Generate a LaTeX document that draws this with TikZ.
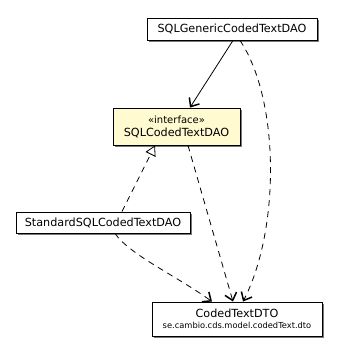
\documentclass[tikz,border=0pt]{standalone}
\usepackage{fontspec}
\setmainfont{DejaVu Sans}
\usetikzlibrary{arrows.meta,shadows}
\definecolor{ifacefill}{RGB}{255,250,208}
\definecolor{shadowgray}{RGB}{120,120,120}
\begin{document}
\begin{tikzpicture}[x=1pt,y=-1pt,
  classbox/.style={draw=black,line width=0.9pt,fill=white,inner sep=0pt,align=center,
    font=\fontsize{11.2}{13}\selectfont,
    drop shadow={shadow xshift=2pt,shadow yshift=-2pt,fill=shadowgray,opacity=1}},
  dep/.style={line width=0.8pt,dash pattern=on 6pt off 5pt,-{Straight Barb[length=7pt,width=12pt,line width=1.5pt]}},
  assoc/.style={line width=0.8pt,-{Straight Barb[length=7pt,width=12pt,line width=1.5pt]}},
  realize/.style={line width=0.8pt,dash pattern=on 6pt off 5pt,-{Triangle[open,length=10pt,width=11pt,line width=0.8pt,fill=white]}}]
\useasboundingbox (0,0) rectangle (337,349);

\node[classbox,minimum width=170pt,minimum height=22pt] (generic) at (232,29) {SQLGenericCodedTextDAO};
\node[classbox,fill=ifacefill,minimum width=127pt,minimum height=37pt] (iface) at (176.5,126.5)
  {\fontsize{10}{13}\selectfont «interface»\\SQLCodedTextDAO};
\node[classbox,minimum width=174pt,minimum height=21pt] (standard) at (103,222.5) {StandardSQLCodedTextDAO};
\node[classbox,minimum width=170pt,minimum height=34pt] (dto) at (237,319)
  {CodedTextDTO\\[-2pt]{\fontsize{8.3}{10}\selectfont se.cambio.cds.model.codedText.dto}};

% association from the generic DAO to the interface
\draw[assoc] ([xshift=1pt]generic.south) -- ([xshift=13.5pt]iface.north);
% dependencies on the DTO
\draw[dep] ([xshift=8pt]generic.south) .. controls (280,100) and (280,230) .. ([xshift=6pt]dto.north);
\draw[dep] ([xshift=11.5pt]iface.south) -- ([xshift=-4pt]dto.north);
\draw[dep] ([xshift=12pt]standard.south) .. controls (130,255) and (175,275) .. ([xshift=-25pt]dto.north);
% realization of the interface
\draw[realize] ([xshift=19pt]standard.north) -- ([xshift=-21.5pt]iface.south);
\end{tikzpicture}
\end{document}
